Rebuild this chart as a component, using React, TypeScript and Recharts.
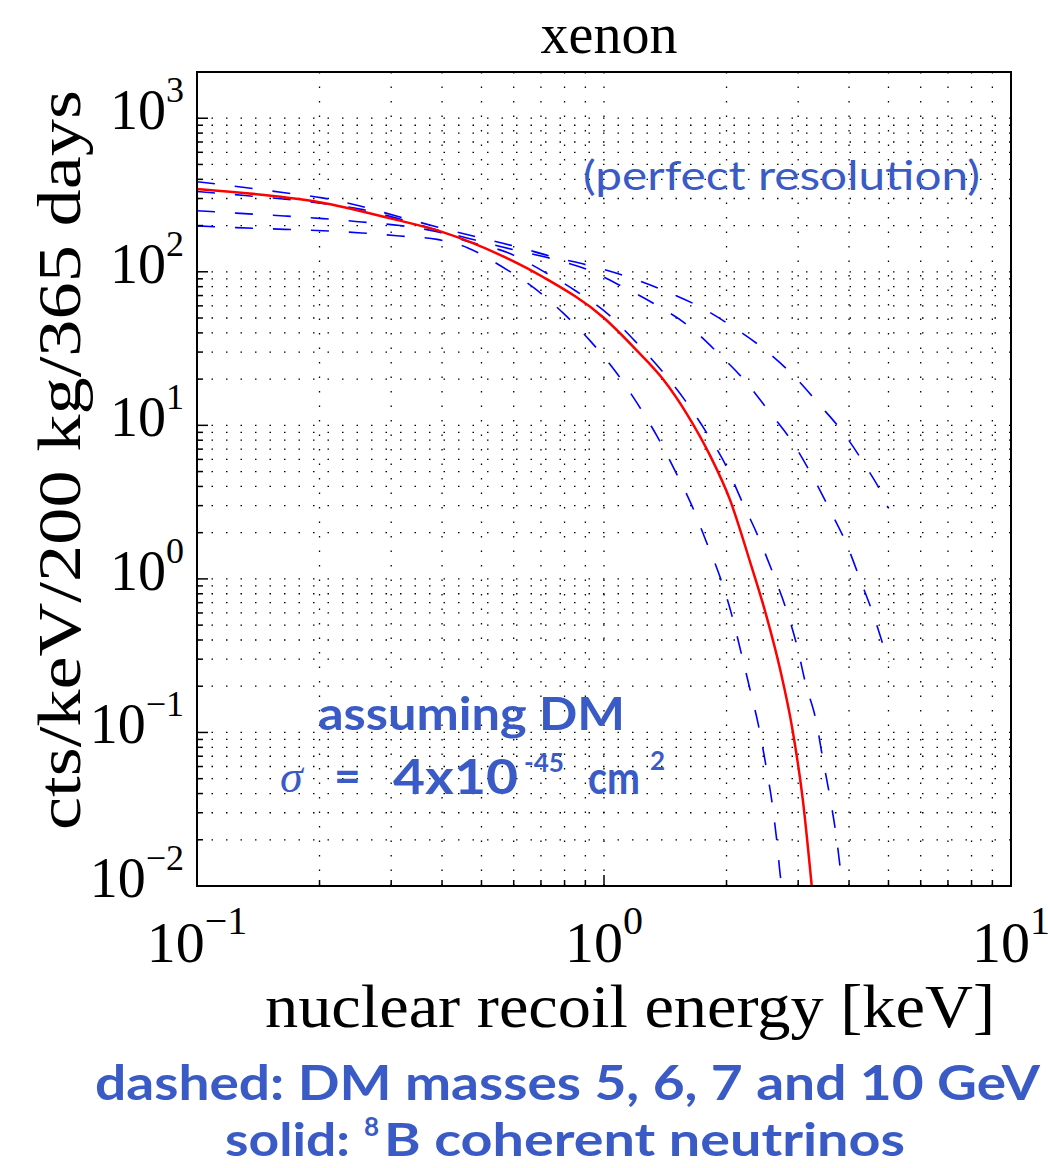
import { LineChart, Line, XAxis, YAxis, CartesianGrid } from "recharts";

const W = 1050;
const H = 1168;
// plot box in page pixels
const PLOT = { left: 197, top: 72, right: 1011, bottom: 886 };

const SERIF = '"Liberation Serif", "DejaVu Serif", serif';
const HAND = 'Lato, "Open Sans", sans-serif';
const NOTE_BLUE = "#3a5bc6";

// axes
const xDomain = [0.1, 10];
const yDomain = [0.01, 2000];
const xMajorTicks = [0.1, 1, 10];
const xTickExponents = ["−1", "0", "1"];
const yMajorTicks = [0.01, 0.1, 1, 10, 100, 1000];
const yTickExponents = ["−2", "−1", "0", "1", "2", "3"];

// 8B coherent neutrino spectrum (solid red)
const neutrinoEnergy = [0.1, 0.15, 0.2, 0.3, 0.4, 0.555, 0.708, 1.0, 1.2, 1.4, 1.6, 1.82, 2.04, 2.285, 2.51, 2.71, 2.9, 3.08, 3.24];
const neutrinoRate = [346, 314, 284, 222, 182, 129, 92.5, 50, 31, 19.8, 11.8, 6.4, 3.27, 1.29, 0.566, 0.256, 0.107, 0.0364, 0.0099];

// DM spectra (dashed blue)
const dm10Energy = [0.1, 0.131, 0.1625, 0.203, 0.2515, 0.312, 0.389, 0.485, 0.601, 0.75, 0.929, 1.146, 1.413, 1.722, 2.075, 2.487, 2.91, 3.37, 3.89, 4.38, 4.87, 4.99];
const dm10Rate = [386, 354, 328, 303, 268, 229, 196, 169, 147, 125, 109, 92.5, 75, 59, 43.7, 31, 21.3, 13.8, 8.8, 5.5, 3.37, 2.9];

const dm7Energy = [0.1, 0.131, 0.203, 0.2515, 0.312, 0.391, 0.482, 0.601, 0.75, 0.914, 1.114, 1.343, 1.626, 1.905, 2.22, 2.54, 2.9, 3.24, 3.59, 3.95, 4.26, 4.61, 4.93, 5.01];
const dm7Rate = [333, 314, 279, 256, 222, 186, 161, 139, 121, 103, 79.6, 60.8, 43.7, 29.6, 19.5, 12.4, 7.8, 4.75, 2.81, 1.67, 0.99, 0.566, 0.325, 0.288];

const dm6Energy = [0.1, 0.1247, 0.164, 0.204, 0.254, 0.315, 0.389, 0.469, 0.581, 0.708, 0.853, 1.023, 1.19, 1.38, 1.58, 1.79, 1.995, 2.18, 2.39, 2.6, 2.8, 2.98, 3.13, 3.32, 3.45, 3.59, 3.72, 3.82, 3.85];
const dm6Rate = [250, 241, 231, 222, 211, 200, 182, 156, 133, 101, 75, 53, 35.5, 23, 14.6, 8.9, 5.45, 3.22, 1.9, 1.09, 0.64, 0.366, 0.207, 0.119, 0.067, 0.038, 0.0212, 0.012, 0.01];

const dm5Energy = [0.1, 0.1247, 0.164, 0.204, 0.254, 0.315, 0.389, 0.463, 0.558, 0.673, 0.793, 0.925, 1.065, 1.205, 1.35, 1.495, 1.645, 1.78, 1.93, 2.06, 2.17, 2.285, 2.4, 2.5, 2.59, 2.66, 2.72, 2.74];
const dm5Rate = [199, 194, 189, 185, 179, 171, 162.5, 143, 109, 78.5, 54, 35.5, 22.6, 14, 8.5, 5.05, 2.99, 1.77, 1.02, 0.583, 0.335, 0.19, 0.109, 0.0607, 0.0343, 0.0194, 0.011, 0.01];

const toPoints = (xs: number[], ys: number[]) => xs.map((x, i) => ({ x, y: ys[i] }));

const neutrinoData = toPoints(neutrinoEnergy, neutrinoRate);
const dmSeries = [
  toPoints(dm10Energy, dm10Rate),
  toPoints(dm7Energy, dm7Rate),
  toPoints(dm6Energy, dm6Rate),
  toPoints(dm5Energy, dm5Rate),
];

// 1..9 x each decade, for minor ticks + grid
function logTicks(lo: number, hi: number) {
  const out: number[] = [];
  for (let e = Math.round(Math.log10(lo)); Math.pow(10, e) <= hi; e++) {
    for (let m = 1; m <= 9; m++) {
      const v = m * Math.pow(10, e);
      if (v >= lo * 0.999 && v <= hi * 1.001) out.push(v);
    }
  }
  return out;
}
const xTicks = logTicks(0.1, 10);
const yTicks = logTicks(0.01, 2000);

const majorIndex = (v: number, majors: number[]) =>
  majors.findIndex((m) => Math.abs(Math.log10(m) - Math.log10(v)) < 1e-6);

function BottomTick(props: any) {
  const { x, payload } = props;
  const i = majorIndex(payload.value, xMajorTicks);
  const len = i >= 0 ? 11 : 6;
  return (
    <g>
      <line x1={x} x2={x} y1={PLOT.bottom} y2={PLOT.bottom - len} stroke="#000" strokeWidth={1.5} />
      {i >= 0 && (
        <text x={x} y={962} textAnchor="middle" fontFamily={SERIF} fontSize={58} fill="#000">
          10
          <tspan dy={-28} fontSize={40}>{xTickExponents[i]}</tspan>
        </text>
      )}
    </g>
  );
}

function TopTick(props: any) {
  const { x, payload } = props;
  const len = majorIndex(payload.value, xMajorTicks) >= 0 ? 11 : 6;
  return <line x1={x} x2={x} y1={PLOT.top} y2={PLOT.top + len} stroke="#000" strokeWidth={1.5} />;
}

function LeftTick(props: any) {
  const { y, payload } = props;
  const i = majorIndex(payload.value, yMajorTicks);
  const len = i >= 0 ? 11 : 6;
  return (
    <g>
      <line x1={PLOT.left} x2={PLOT.left + len} y1={y} y2={y} stroke="#000" strokeWidth={1.5} />
      {i >= 0 && (
        <text x={184} y={y + 11} textAnchor="end" fontFamily={SERIF} fontSize={56} fill="#000">
          10
          <tspan dy={-27} fontSize={36}>{yTickExponents[i]}</tspan>
        </text>
      )}
    </g>
  );
}

function RightTick(props: any) {
  const { y, payload } = props;
  const len = majorIndex(payload.value, yMajorTicks) >= 0 ? 11 : 6;
  return <line x1={PLOT.right} x2={PLOT.right - len} y1={y} y2={y} stroke="#000" strokeWidth={1.5} />;
}

export default function App() {
  const axisLine = { stroke: "#000", strokeWidth: 2 };
  return (
    <div style={{ position: "absolute", left: 0, top: 0, width: W, height: H, background: "#fff" }}>
      <LineChart
        width={W}
        height={H}
        margin={{ top: PLOT.top, right: W - PLOT.right, bottom: H - PLOT.bottom - 90, left: PLOT.left - 120 }}
      >
        <CartesianGrid stroke="#000" strokeWidth={1.3} strokeDasharray="1.5 13" />
        <XAxis
          dataKey="x"
          type="number"
          scale="log"
          domain={xDomain}
          ticks={xTicks}
          interval={0}
          allowDataOverflow
          height={90}
          axisLine={axisLine}
          tickLine={false}
          tick={<BottomTick />}
        />
        <XAxis
          xAxisId="top"
          orientation="top"
          dataKey="x"
          type="number"
          scale="log"
          domain={xDomain}
          ticks={xTicks}
          interval={0}
          allowDataOverflow
          height={0}
          axisLine={axisLine}
          tickLine={false}
          tick={<TopTick />}
        />
        <YAxis
          type="number"
          scale="log"
          domain={yDomain}
          ticks={yTicks}
          interval={0}
          allowDataOverflow
          width={120}
          axisLine={axisLine}
          tickLine={false}
          tick={<LeftTick />}
        />
        <YAxis
          yAxisId="right"
          orientation="right"
          type="number"
          scale="log"
          domain={yDomain}
          ticks={yTicks}
          interval={0}
          allowDataOverflow
          width={0}
          axisLine={axisLine}
          tickLine={false}
          tick={<RightTick />}
        />
        {dmSeries.map((d, i) => (
          <Line
            key={i}
            data={d}
            dataKey="y"
            type="monotone"
            stroke="#0000ff"
            strokeWidth={1.6}
            strokeDasharray="18 20"
            dot={false}
            isAnimationActive={false}
          />
        ))}
        <Line
          data={neutrinoData}
          dataKey="y"
          type="monotone"
          stroke="#ff0000"
          strokeWidth={2.5}
          dot={false}
          isAnimationActive={false}
        />
      </LineChart>
      <svg width={W} height={H} style={{ position: "absolute", left: 0, top: 0, pointerEvents: "none" }}>
        <rect
          x={PLOT.left}
          y={PLOT.top}
          width={PLOT.right - PLOT.left}
          height={PLOT.bottom - PLOT.top}
          fill="none"
          stroke="#000"
          strokeWidth={2}
        />
        <text x={609} y={53} textAnchor="middle" fontFamily={SERIF} fontSize={56} fill="#000">
          xenon
        </text>
        <text
          transform="translate(80,460) rotate(-90)"
          textAnchor="middle"
          fontFamily={SERIF}
          fontSize={62}
          textLength={740}
          lengthAdjust="spacingAndGlyphs"
          fill="#000"
        >
          cts/keV/200 kg/365 days
        </text>
        <text
          x={630}
          y={1027}
          textAnchor="middle"
          fontFamily={SERIF}
          fontSize={62}
          textLength={730}
          lengthAdjust="spacingAndGlyphs"
          fill="#000"
        >
          nuclear recoil energy [keV]
        </text>
        <text x={583} y={190} fontFamily={HAND} fontSize={40} fill={NOTE_BLUE} textLength={397} lengthAdjust="spacingAndGlyphs">
          (perfect resolution)
        </text>
        <text x={318} y={730} fontFamily={HAND} fontWeight={700} fontSize={46} fill={NOTE_BLUE} textLength={307} lengthAdjust="spacingAndGlyphs">
          assuming DM
        </text>
        <g fill={NOTE_BLUE} fontFamily={HAND} fontWeight={700}>
          <text x={280} y={792} fontFamily={SERIF} fontStyle="italic" fontWeight={400} fontSize={46}>σ</text>
          <text x={334} y={792} fontSize={46}>=</text>
          <text x={393} y={794} fontSize={48} textLength={125} lengthAdjust="spacingAndGlyphs">4x10</text>
          <text x={524} y={772} fontSize={26} textLength={40} lengthAdjust="spacingAndGlyphs">-45</text>
          <text x={588} y={794} fontSize={46} textLength={52} lengthAdjust="spacingAndGlyphs">cm</text>
          <text x={650} y={770} fontSize={26}>2</text>
        </g>
        <text x={95} y={1100} fontFamily={HAND} fontWeight={700} fontSize={48} fill={NOTE_BLUE} textLength={945} lengthAdjust="spacingAndGlyphs">
          dashed: DM masses 5, 6, 7 and 10 GeV
        </text>
        <g fill={NOTE_BLUE} fontFamily={HAND} fontWeight={700}>
          <text x={225} y={1156} fontSize={46} textLength={125} lengthAdjust="spacingAndGlyphs">solid:</text>
          <text x={364} y={1136} fontSize={26}>8</text>
          <text x={384} y={1156} fontSize={46} textLength={521} lengthAdjust="spacingAndGlyphs">B coherent neutrinos</text>
        </g>
      </svg>
    </div>
  );
}
